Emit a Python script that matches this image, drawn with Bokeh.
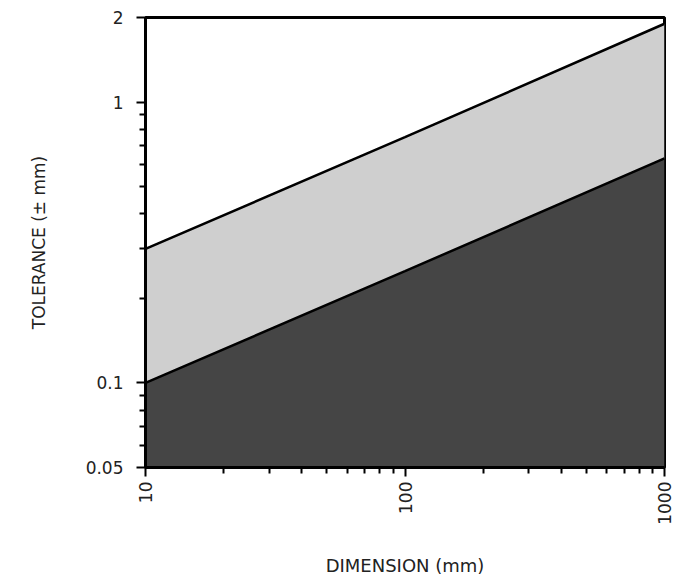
import math
from bokeh.plotting import figure
from bokeh.models import FixedTicker, ColumnDataSource
from bokeh.embed import file_html
from bokeh.resources import INLINE

# data
dimension = [10, 100, 1000]
lower_tol = [0.1, 0.25, 0.63]
upper_tol = [0.3, 0.75, 1.9]
floor_tol = [0.05, 0.05, 0.05]

x_major = [10, 100, 1000]
x_minor = [20, 30, 40, 50, 60, 70, 80, 90, 200, 300, 400, 500, 600, 700, 800, 900]
y_major = [0.05, 0.1, 1, 2]
y_minor = [0.06, 0.07, 0.08, 0.09, 0.2, 0.3, 0.4, 0.5, 0.6, 0.7, 0.8, 0.9]
y_labels = {0.05: "0.05", 0.1: "0.1", 1: "1", 2: "2"}
x_labels = {10: "10", 100: "100", 1000: "1000"}

src = ColumnDataSource(dict(x=dimension, lo=lower_tol, up=upper_tol, fl=floor_tol))

p = figure(width=675, height=582, x_axis_type="log", y_axis_type="log",
           x_range=(10, 1000), y_range=(0.05, 2),
           output_backend="svg", toolbar_location=None,
           frame_width=519, frame_height=450,
           min_border_left=145, min_border_top=17, min_border_right=11,
           min_border_bottom=115)

p.varea(x="x", y1="fl", y2="lo", source=src, fill_color="#454545")
p.varea(x="x", y1="lo", y2="up", source=src, fill_color="#cfcfcf")
p.line(x="x", y="lo", source=src, line_color="black", line_width=2.5)
p.line(x="x", y="up", source=src, line_color="black", line_width=2.5)

p.xgrid.visible = False
p.ygrid.visible = False
p.outline_line_color = "black"
p.outline_line_width = 3
p.background_fill_color = "white"
p.border_fill_color = "white"

p.xaxis.ticker = FixedTicker(ticks=x_major, minor_ticks=x_minor)
p.yaxis.ticker = FixedTicker(ticks=y_major, minor_ticks=y_minor)
p.xaxis.major_label_overrides = x_labels
p.yaxis.major_label_overrides = y_labels
p.xaxis.major_label_orientation = math.pi / 2

for ax in (p.xaxis[0], p.yaxis[0]):
    ax.axis_line_width = 3
    ax.axis_line_color = "black"
    ax.major_tick_in = 0
    ax.major_tick_out = 9
    ax.minor_tick_in = 0
    ax.minor_tick_out = 6
    ax.major_tick_line_width = 2
    ax.minor_tick_line_width = 2
    ax.major_tick_line_color = "black"
    ax.minor_tick_line_color = "black"
    ax.major_label_text_font = "DejaVu Sans"
    ax.major_label_text_font_size = "17px"
    ax.major_label_text_color = "#222222"
    ax.axis_label_text_font = "DejaVu Sans"
    ax.axis_label_text_font_style = "normal"
    ax.axis_label_text_color = "#222222"

p.yaxis.major_label_standoff = 13
p.xaxis.axis_label_text_font_size = "18px"
p.yaxis.axis_label_text_font_size = "17px"
p.xaxis.axis_label = "DIMENSION (mm)"
p.yaxis.axis_label = "TOLERANCE (± mm)"
p.xaxis.axis_label_standoff = 27
p.yaxis.axis_label_standoff = 34

open("out.html", "w").write(file_html(p, INLINE))
